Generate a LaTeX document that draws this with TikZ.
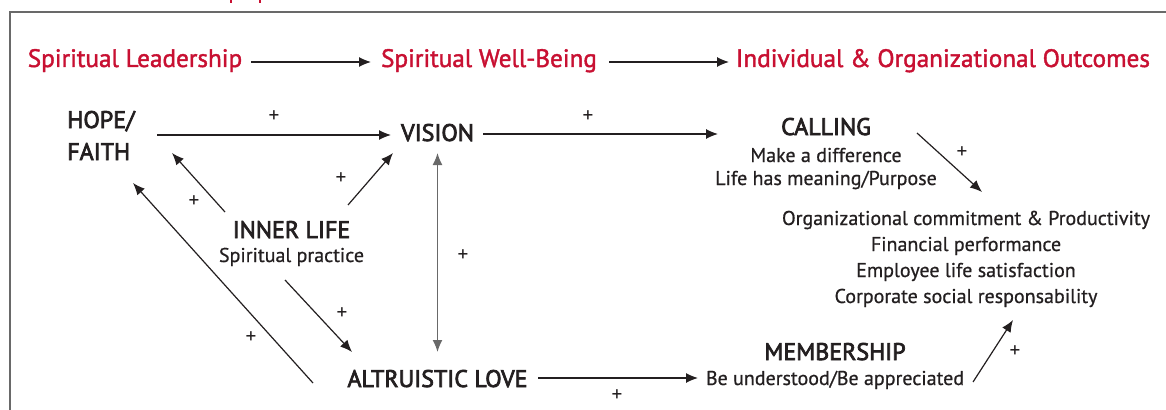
\documentclass[tikz,border=0pt]{standalone}
\usepackage{fontspec}
\setmainfont{PT Sans}
\newfontfamily\headfont{PT Sans}[FakeBold=3]
\newfontfamily\redfont{PT Sans}[FakeBold=1.6]
\newfontfamily\subfont{PT Sans}[FakeBold=0.7]
\usetikzlibrary{arrows.meta,calc}
\definecolor{hred}{RGB}{200,16,50}
\definecolor{ink}{RGB}{35,31,32}
\definecolor{framegray}{RGB}{105,105,105}
\tikzset{
  redhead/.style={anchor=base,inner sep=0pt,text=hred,font=\redfont\fontsize{18.9pt}{22pt}\selectfont},
  head/.style={anchor=base,inner sep=0pt,text=ink,font=\headfont\fontsize{18pt}{22pt}\selectfont},
  sub/.style={anchor=base,inner sep=0pt,text=ink,font=\subfont\fontsize{15pt}{18pt}\selectfont},
  plus/.style={anchor=center,inner sep=0pt,text=ink,font=\fontsize{16pt}{18pt}\selectfont},
  arr/.style={draw=ink,line width=0.9pt,-{Latex[length=9pt,width=7.5pt]}},
  darr/.style={draw=framegray,line width=1.1pt,{Latex[length=9pt,width=7.5pt]}-{Latex[length=9pt,width=7.5pt]}},
}
\begin{document}
\begin{tikzpicture}[x=0.75pt,y=-0.75pt]
\useasboundingbox (0,0) rectangle (1166,410);
% frame
\draw[framegray,line width=1.5pt] (10,410) -- (10,12) -- (1166,12);
\fill[hred] (229.5,0) rectangle (231.5,3);
\fill[hred] (258.5,0) rectangle (260.5,3);
% red headings
\node[redhead] (sl) at (135,67) {Spiritual Leadership};
\node[redhead] (swb) at (489,67) {Spiritual Well-Being};
\node[redhead] (ioo) at (943,67) {Individual \& Organizational Outcomes};
% concepts
\node[head,anchor=base west] (hope) at (67,128) {HOPE/};
\node[head,anchor=base west] (faith) at (67,160) {FAITH};
\node[head] (vision) at (437.5,141) {VISION};
\node[head] (calling) at (826,135) {CALLING};
\node[sub] (callA) at (826,162) {Make a difference};
\node[sub] (callB) at (826,185) {Life has meaning/Purpose};
\node[head] (inner) at (291.5,238) {INNER LIFE};
\node[sub] (innerA) at (291.5,262) {Spiritual practice};
\node[head] (altru) at (437.5,387) {ALTRUISTIC LOVE};
\node[head] (member) at (835,360) {MEMBERSHIP};
\node[sub] (memberA) at (835,385) {Be understood/Be appreciated};
\node[sub] (o1) at (966,225) {Organizational commitment \& Productivity};
\node[sub] (o2) at (966,251) {Financial performance};
\node[sub] (o3) at (966,277) {Employee life satisfaction};
\node[sub] (o4) at (966,303) {Corporate social responsability};
% connectors
\draw[arr] ($(sl.base)+(116,-5)$) -- ($(swb.base)+(-118,-5)$);
\draw[arr] ($(swb.base)+(120,-5)$) -- ($(ioo.base)+(-214,-5)$);
\draw[arr] ($(hope.base west)+(90,7)$) -- ($(vision.base)+(-46.5,-6)$);
\draw[arr] ($(vision.base)+(45.5,-7)$) -- ($(calling.base)+(-108,-1)$);
\draw[arr] ($(calling.base)+(91,-2)$) -- ($(o1.base)+(16,-33)$);
\draw[arr] ($(inner.base)+(-66.5,-26)$) -- ($(faith.base west)+(105,-7)$);
\draw[arr] ($(inner.base)+(56.5,-33)$) -- ($(vision.base)+(-44.5,12)$);
\draw[arr] ($(altru.base)+(-124.5,-4)$) -- ($(faith.base west)+(66,23)$);
\draw[arr] ($(innerA.base)+(-6.5,18)$) -- ($(altru.base)+(-85.5,-35)$);
\draw[darr] ($(vision.base)+(0,12)$) -- ($(altru.base)+(0,-35)$);
\draw[arr] ($(altru.base)+(100.5,-9)$) -- ($(memberA.base)+(-137,-7)$);
\draw[arr] ($(memberA.base)+(138,-3)$) -- ($(o4.base)+(47,17)$);
% plus labels
\node[plus] (p1) at (274,117) {+};
\node[plus] (p2) at (588,117) {+};
\node[plus] (p3) at (962,153) {+};
\node[plus] (p4) at (194,202) {+};
\node[plus] (p5) at (341,179) {+};
\node[plus] (p6) at (251,338) {+};
\node[plus] (p7) at (342,314) {+};
\node[plus] (p8) at (463,256) {+};
\node[plus] (p9) at (617,396) {+};
\node[plus] (p10) at (1015,352) {+};
\end{tikzpicture}
\end{document}
